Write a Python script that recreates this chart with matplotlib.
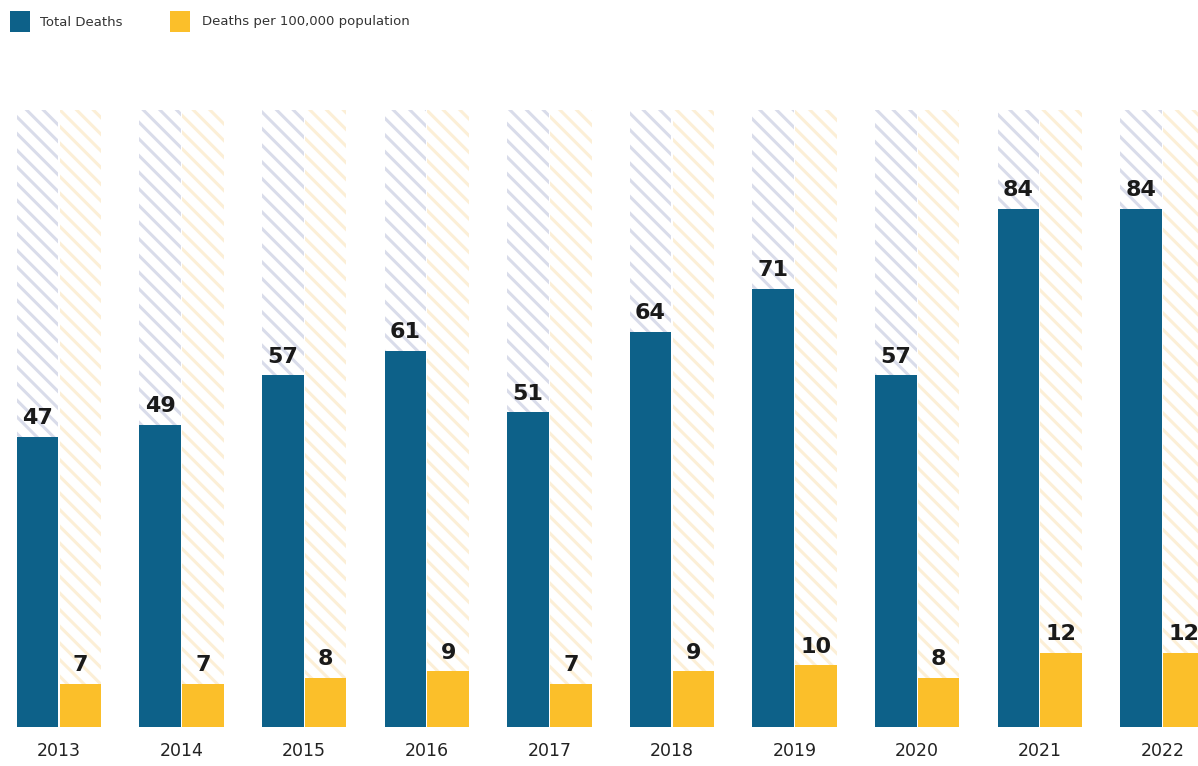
import matplotlib
matplotlib.use("Agg")
import matplotlib.pyplot as plt
from matplotlib.patches import Rectangle
import numpy as np

years = ["2013", "2014", "2015", "2016", "2017", "2018", "2019", "2020", "2021", "2022"]
total_deaths = [47, 49, 57, 61, 51, 64, 71, 57, 84, 84]
deaths_per_100k = [7, 7, 8, 9, 7, 9, 10, 8, 12, 12]
background_max = 100

BLUE = "#0d6189"
YELLOW = "#fbbf2a"
HATCH_BLUE = "#d9dcea"
HATCH_YELLOW = "#fcefd6"

plt.rcParams['font.family'] = ['DejaVu Sans']
plt.rcParams['hatch.linewidth'] = 2.2

W, H = 1198, 766
fig = plt.figure(figsize=(W / 100, H / 100), dpi=100)

group_px = 122.6
center0_px = 59.0
bottom_px = 727.0
top_px = 110.0
ax = fig.add_axes([0, (H - bottom_px) / H, 1, (bottom_px - top_px) / H])
ax.set_xlim(-center0_px / group_px, (W - center0_px) / group_px)
ax.set_ylim(0, background_max)

x = np.arange(len(years))
bw = 0.34
off = 0.175

ax.bar(x - off, [background_max] * len(x), bw, facecolor="white", edgecolor=HATCH_BLUE,
       linewidth=0, hatch="\\\\", zorder=1)
ax.bar(x + off, [background_max] * len(x), bw, facecolor="white", edgecolor=HATCH_YELLOW,
       linewidth=0, hatch="\\\\", zorder=1)
ax.bar(x - off, total_deaths, bw, color=BLUE, zorder=2)
ax.bar(x + off, deaths_per_100k, bw, color=YELLOW, zorder=2)

for xi, v in zip(x, total_deaths):
    ax.text(xi - off, v + 1.4, str(v), ha="center", va="bottom", fontsize=16,
            fontweight="bold", color="#1a1a1a", zorder=3, clip_on=False)
for xi, v in zip(x, deaths_per_100k):
    ax.text(xi + off, v + 1.4, str(v), ha="center", va="bottom", fontsize=16,
            fontweight="bold", color="#1a1a1a", zorder=3, clip_on=False)

ax.set_xticks(x)
ax.set_xticklabels(years, fontsize=12.5, color="#222222")
ax.tick_params(axis="x", length=0, pad=11)
ax.set_yticks([])
for s in ax.spines.values():
    s.set_visible(False)

# legend
fig.patches.append(Rectangle((10 / W, 1 - 32 / H), 20 / W, 21 / H, transform=fig.transFigure,
                             facecolor=BLUE, edgecolor="none"))
fig.text(40 / W, 1 - 22 / H, "Total Deaths", fontsize=9.5, color="#333333", va="center", ha="left")
fig.patches.append(Rectangle((170 / W, 1 - 32 / H), 20 / W, 21 / H, transform=fig.transFigure,
                             facecolor=YELLOW, edgecolor="none"))
fig.text(202 / W, 1 - 22 / H, "Deaths per 100,000 population", fontsize=9.5, color="#333333",
         va="center", ha="left")

fig.savefig("out.png", dpi=100)
